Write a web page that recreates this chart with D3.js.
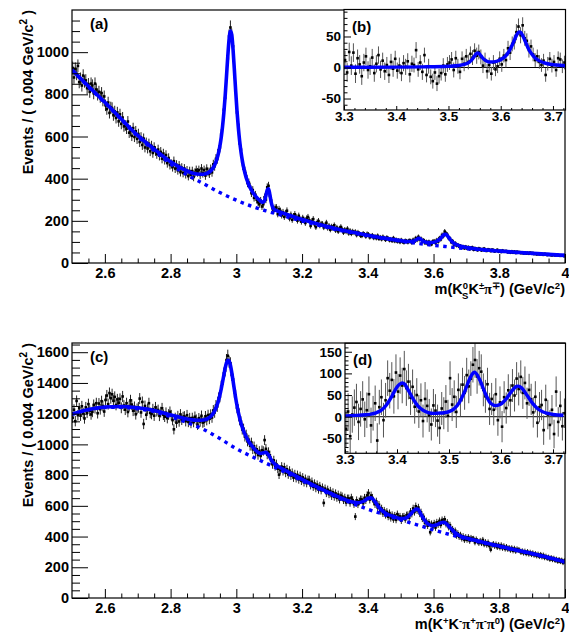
<!DOCTYPE html>
<html><head><meta charset="utf-8">
<script src="https://cdn.jsdelivr.net/npm/d3@7"></script>
<style>
body{margin:0;background:#fff}
svg{display:block}
text{font-family:"Liberation Sans",Arial,Helvetica,sans-serif;font-weight:bold;fill:#000}
</style></head>
<body><svg id="c" width="569" height="636"></svg>
<script>
// ---------- DATA ----------
const binStart = 2.502, binWidth = 0.004;      // main histogram bins
const insetStart = 3.302;                        // inset bins
const xTicksMain = [2.6, 2.8, 3.0, 3.2, 3.4, 3.6, 3.8, 4.0];
const yTicksA = [0, 200, 400, 600, 800, 1000];
const yTicksC = [0, 200, 400, 600, 800, 1000, 1200, 1400, 1600];
const xTicksInset = [3.3, 3.4, 3.5, 3.6, 3.7];
const yTicksB = [-50, 0, 50];
const yTicksD = [-50, 0, 50, 100, 150];

// (a) m(KsKpi) events per 4 MeV
const dataA = [
925,880,921,897,935, 858,874,842,889,861, 866,829,848,812,851, 842,805,851,823,799, 812,788,806,771,790,
748,730,761,712,738, 735,701,719,688,714, 672,705,660,690,648, 652,637,671,618,628, 603,640,598,625,589,
612,574,596,560,590, 548,571,543,566,530, 556,522,549,531,517, 538,509,527,495,519, 489,512,474,498,465,
470,455,483,448,466, 440,462,431,452,427, 448,421,439,412,436, 419,436,408,428,441, 430,441,418,448,426,
441,415,447,432,424, 446,430,468,459,494, 493,535,548,610,641, 727,783,897,969,1075, 1117,1079,1028,905,828,
714,655,567,538,480, 447,436,412,379,381, 362,331,346,309,324, 300,288,279,296,268, 279,312,301,359,366,
318,296,259,249,262, 263,232,255,247,226, 241,219,236,248,222, 212,229,205,222,231, 218,201,224,207,196,
214,205,190,211,218, 203,176,199,208,184, 170,193,199,178,186, 185,169,180,191,166, 176,158,173,166,179,
155,168,150,163,171, 160,145,158,149,162, 141,153,139,150,144, 148,133,145,139,130, 129,140,135,126,138,
135,122,128,131,119, 126,118,129,115,122, 113,124,117,110,121, 116,108,113,105,118, 104,111,102,108,99,
109,101,97,106,104, 98,107,105,96,110, 101,118,109,124,112, 115,102,108,95,101, 91,101,94,89,103,
104,95,109,101,118, 112,133,128,149,140, 134,118,116,99,104, 88,94,83,86,78, 81,73,78,70,77,
69,75,66,72,74, 63,70,67,61,69, 66,60,65,68,59, 58,64,62,57,63, 61,55,59,62,54,
57,53,59,54,56, 56,51,54,49,55, 49,54,48,53,51, 51,47,50,45,49, 45,48,44,49,46,
47,43,45,41,44, 41,44,42,39,43, 42,38,41,40,37, 37,40,36,39,38, 36,34,37,35,33
];
const fitA = [[2.50,916],[2.55,838],[2.60,762],[2.65,683],[2.70,605],[2.75,540],[2.80,480],[2.84,444],[2.88,422],[2.90,421],[2.92,434],[2.93,453],[2.938,480],[2.942,499],[2.946,524],[2.950,555],[2.954,595],[2.958,647],[2.962,712],[2.966,791],[2.970,884],[2.974,980],[2.978,1061],[2.982,1100],[2.986,1083],[2.990,1013],[2.994,917],[2.998,816],[3.002,722],[3.006,644],[3.010,580],[3.014,529],[3.018,488],[3.022,455],[3.026,428],[3.030,405],[3.034,387],[3.038,370],[3.046,346],[3.054,326],[3.062,311],[3.070,299],[3.078,289],[3.082,288],[3.086,296],[3.090,319],[3.094,347],[3.098,352],[3.102,325],[3.106,289],[3.110,266],[3.114,257],[3.120,250],[3.14,238],[3.16,227],[3.20,206],[3.25,184],[3.30,164],[3.35,147],[3.40,132],[3.45,118],[3.50,106],[3.52,102],[3.53,102],[3.54,104],[3.546,109],[3.550,113],[3.554,117],[3.558,116],[3.562,111],[3.566,106],[3.570,103],[3.578,98],[3.59,97],[3.60,98],[3.61,103],[3.618,112],[3.622,117],[3.626,125],[3.630,132],[3.634,136],[3.638,136],[3.642,129],[3.646,122],[3.650,113],[3.654,105],[3.658,99],[3.666,90],[3.674,85],[3.69,77],[3.72,69],[3.76,62],[3.80,57],[3.85,51],[3.90,46],[3.95,41],[4.00,36]];
const bkgA = [[2.50,915],[2.55,835],[2.60,760],[2.65,680],[2.70,601],[2.75,533],[2.80,470],[2.85,418],[2.90,376],[2.95,334],[3.00,298],[3.05,267],[3.10,243],[3.15,221],[3.20,199],[3.25,179],[3.30,160],[3.35,144],[3.40,129],[3.45,116],[3.50,104],[3.55,93],[3.60,84],[3.65,76],[3.70,68],[3.75,62],[3.80,56],[3.85,50],[3.90,45],[3.95,40],[4.00,35]];

// (b) background-subtracted, 3.3-3.72
const dataB = [
12,-8,25,3,24, -10,15,5,-14,8, 18,-4,2,16,-9, 6,20,-3,11,-6, 4,-12,9,-2,14,
-5,3,-9,7,1, 10,-11,6,4,28, -3,8,-7,20,-12, 2,-15,-22,-8,-26, -14,-9,3,-11,5,
8,13,-4,15,2, -7,14,6,18,9, 22,16,27,19,25, 17,3,12,-6,4, -10,8,-3,2,14,
5,19,12,31,24, 38,41,57,66,52, 68,47,43,28,34, 21,12,18,9,4, 11,-12,6,14,3,
9,-4,15,13,2, 8
];
const errB = [
15,15,15,15,15, 15,14,15,14,14, 14,14,14,14,14, 14,14,14,13,14, 13,13,13,13,13,
13,13,13,13,13, 13,13,13,12,13, 12,12,13,12,12, 12,12,12,12,12, 12,12,12,12,12,
12,12,12,12,12, 12,12,12,12,12, 12,12,12,13,12, 12,12,12,12,12, 11,12,11,11,12,
12,11,12,12,12, 12,12,13,13,13, 13,12,12,12,11, 11,11,11,11,11, 11,11,11,11,11,
11,11,11,11,11, 11
];
const fitB = [[3.30,0.3],[3.40,0.6],[3.45,1.0],[3.50,2.0],[3.52,3.2],[3.53,4.9],[3.54,8.6],[3.546,13.7],[3.550,18.6],[3.554,22.8],[3.556,23.6],[3.558,23.0],[3.562,19.1],[3.566,14.6],[3.570,12.0],[3.578,8.8],[3.586,9.0],[3.594,10.5],[3.602,13.7],[3.610,19.3],[3.618,29.3],[3.622,36.2],[3.626,44.1],[3.630,51.8],[3.634,56.8],[3.636,57.4],[3.638,56.7],[3.642,51.7],[3.646,43.9],[3.650,35.9],[3.654,28.9],[3.658,23.3],[3.666,15.4],[3.674,10.7],[3.682,7.9],[3.694,5.3],[3.706,4.0],[3.724,2.8]];

// (c) m(KKpipipi0) events per 4 MeV
const dataC = [
1174,1226,1151,1283,1190, 1235,1187,1248,1203,1169, 1241,1206,1262,1219,1195, 1212,1257,1236,1268,1203, 1266,1229,1281,1250,1214,
1289,1318,1262,1334,1301, 1326,1284,1309,1257,1293, 1271,1296,1238,1312,1253, 1226,1268,1211,1249,1287, 1259,1219,1244,1196,1231,
1241,1298,1208,1276,1133, 1250,1193,1231,1268,1205, 1198,1229,1187,1241,1216, 1224,1186,1210,1235,1193, 1180,1206,1171,1195,1212,
1190,1158,1098,1172,1141, 1184,1149,1195,1160,1178, 1182,1151,1190,1146,1171, 1139,1172,1145,1180,1161, 1128,1170,1149,1186,1142,
1147,1183,1158,1191,1166, 1194,1175,1221,1208,1253, 1247,1302,1310,1378,1396, 1462,1481,1549,1577,1538, 1528,1452,1423,1340,1318,
1238,1226,1158,1149,1097, 1102,1051,1063,1019,1030, 991,1012,968,987,949, 968,931,957,925,962, 957,1028,971,934,950,
929,894,871,896,858, 871,842,803,833,855, 826,851,815,838,804, 829,797,815,784,806, 780,801,772,794,763,
785,753,776,748,769, 768,734,757,724,745, 715,738,706,729,701, 719,619,712,683,705, 676,697,664,688,659,
681,652,673,641,667, 661,637,653,622,648, 648,619,653,637,611, 530,636,610,629,642, 641,618,652,637,668,
683,641,667,652,628, 611,628,589,607,566, 583,551,569,540,561, 529,553,520,541,512, 537,509,546,527,531,
504,529,531,512,539, 541,523,562,548,583, 560,597,571,589,550, 558,517,528,489,501, 471,492,428,483,466,
487,459,493,478,502, 476,508,497,512,481, 491,461,474,437,448, 419,438,406,421,398, 411,387,402,378,396,
379,396,372,391,384, 385,362,381,369,358, 372,357,378,349,364, 346,362,339,315,344, 352,338,349,331,345,
328,344,325,338,320, 333,318,327,312,325, 308,322,305,318,312, 311,297,306,293,304, 289,301,286,297,283,
293,279,288,274,285, 270,283,267,279,262, 272,258,266,251,263, 249,259,244,253,238, 251,236,247,229,243
];
const fitC = [[2.50,1197],[2.55,1227],[2.60,1243],[2.65,1247],[2.70,1238],[2.75,1221],[2.80,1192],[2.84,1170],[2.86,1161],[2.88,1157],[2.90,1159],[2.922,1182],[2.930,1203],[2.938,1237],[2.942,1260],[2.946,1288],[2.950,1321],[2.954,1361],[2.958,1405],[2.962,1451],[2.966,1496],[2.970,1531],[2.974,1548],[2.978,1543],[2.982,1515],[2.986,1469],[2.990,1414],[2.994,1357],[2.998,1302],[3.002,1253],[3.006,1210],[3.010,1173],[3.014,1140],[3.018,1112],[3.026,1067],[3.034,1033],[3.042,1005],[3.050,983],[3.058,963],[3.066,948],[3.074,941],[3.082,945],[3.090,948],[3.098,931],[3.106,900],[3.114,878],[3.122,864],[3.14,841],[3.16,818],[3.20,772],[3.25,718],[3.30,668],[3.33,641],[3.35,627],[3.37,620],[3.38,624],[3.39,633],[3.40,648],[3.41,652],[3.42,632],[3.43,602],[3.44,576],[3.45,558],[3.46,545],[3.48,529],[3.50,517],[3.518,523],[3.522,529],[3.530,545],[3.538,565],[3.542,572],[3.546,578],[3.550,579],[3.554,574],[3.558,561],[3.562,544],[3.566,529],[3.570,515],[3.574,503],[3.578,492],[3.582,484],[3.590,474],[3.598,470],[3.606,474],[3.614,481],[3.622,489],[3.630,493],[3.638,486],[3.646,468],[3.654,450],[3.662,432],[3.670,418],[3.678,407],[3.69,396],[3.70,391],[3.72,379],[3.76,358],[3.80,338],[3.85,313],[3.90,289],[3.95,263],[4.00,236]];
const bkgC = [[2.50,1195],[2.55,1225],[2.60,1240],[2.65,1242],[2.70,1232],[2.75,1213],[2.80,1180],[2.85,1142],[2.90,1098],[2.95,1038],[3.00,972],[3.05,918],[3.10,868],[3.15,817],[3.20,764],[3.25,712],[3.30,662],[3.35,618],[3.40,578],[3.45,543],[3.50,509],[3.55,476],[3.60,444],[3.65,413],[3.70,385],[3.75,360],[3.80,335],[3.85,311],[3.90,287],[3.95,261],[4.00,234]];

// (d) background-subtracted, 3.3-3.72
const dataD = [
-28,12,-45,5,21, 34,-12,18,40,-6, 15,52,-20,8,31, -55,22,45,-8,38, 89,60,85,47,102,
58,95,72,110,66, 81,44,69,23,50, 12,38,-10,41,25, 3,-18,26,14,-9, -26,19,8,35,2,
89,28,46,11,62, 39,74,55,96,70, 88,120,131,93,112, 104,62,47,75,18, 41,16,52,-8,33,
-23,45,20,61,38, 72,49,88,64,92, 55,78,31,62,40, 10,46,-14,22,27, -31,39,5,-19,16,
-40,58,-12,25,-22, 8
];
const errD = [
43,42,43,42,42, 42,42,41,42,41, 41,41,41,40,41, 40,40,41,40,40, 41,41,41,40,42,
41,42,41,42,41, 41,40,40,39,39, 38,39,38,39,38, 38,37,38,38,37, 37,38,37,38,37,
39,38,38,37,38, 38,39,39,40,39, 40,41,41,40,40, 40,38,38,38,37, 37,36,37,36,37,
36,37,36,37,37, 38,37,38,38,38, 37,38,36,37,36, 35,36,34,35,35, 34,35,34,34,34,
33,35,34,34,33, 34
];
const fitD = [[3.30,2],[3.32,3],[3.34,4.6],[3.35,6],[3.36,9],[3.37,15],[3.38,27.5],[3.39,47],[3.40,68.5],[3.405,75],[3.41,78],[3.415,75],[3.42,65],[3.43,43],[3.44,25],[3.45,15],[3.46,9.7],[3.47,7.6],[3.48,8.3],[3.49,9.2],[3.50,11.8],[3.51,18.4],[3.52,33],[3.53,58],[3.54,88],[3.545,99],[3.549,103],[3.555,95],[3.56,83],[3.57,53],[3.58,31],[3.59,25.7],[3.60,29.3],[3.61,41.3],[3.62,58],[3.63,70],[3.633,70.7],[3.64,66],[3.65,49.4],[3.66,32],[3.67,19],[3.68,11.4],[3.69,7.5],[3.70,5.2],[3.72,3.4]];

// ---------- DRAWING ----------
const svg = d3.select("#c");
const BLUE = "#0000ff";
const fmt = d => String(+(+d).toFixed(2));
let clipN = 0;
function clip(x0, y0, x1, y1) {
  const id = "clip" + (clipN++);
  svg.append("clipPath").attr("id", id).append("rect")
    .attr("x", x0).attr("y", y0).attr("width", x1 - x0).attr("height", y1 - y0);
  return `url(#${id})`;
}
function axes(g, x, y, o) {
  const yl = x.range()[0], xb = y.range()[0];
  g.append("g").attr("transform", `translate(${yl},0)`)
    .call(d3.axisLeft(y).tickValues(o.yMinor).tickSize(-o.yMinLen).tickFormat(""))
    .call(a => a.select(".domain").remove());
  g.append("g").attr("transform", `translate(${yl},0)`)
    .call(d3.axisLeft(y).tickValues(o.yMajor).tickSize(-o.yMajLen).tickPadding(3).tickFormat(fmt))
    .call(a => a.select(".domain").remove())
    .attr("font-size", o.fs).attr("font-family", null);
  g.append("g").attr("transform", `translate(0,${xb})`)
    .call(d3.axisBottom(x).tickValues(o.xMinor).tickSize(-o.xMinLen).tickFormat(""))
    .call(a => a.select(".domain").remove());
  g.append("g").attr("transform", `translate(0,${xb})`)
    .call(d3.axisBottom(x).tickValues(o.xMajor).tickSize(-o.xMajLen).tickPadding(o.xPad).tickFormat(fmt))
    .call(a => a.select(".domain").remove())
    .attr("font-size", o.fs).attr("font-family", null);
  g.selectAll(".tick line").attr("stroke", "#000").attr("stroke-width", 1);
  g.selectAll(".tick text").attr("fill", "#000");
}
function drawPoints(g, x, y, pts, col) {
  g.append("g").selectAll("line").data(pts).join("line")
    .attr("x1", d => x(d.x)).attr("x2", d => x(d.x))
    .attr("y1", d => y(d.v - d.e)).attr("y2", d => y(d.v + d.e))
    .attr("stroke", col).attr("stroke-width", 1);
  g.append("g").selectAll("rect").data(pts).join("rect")
    .attr("x", d => x(d.x) - 1.3).attr("y", d => y(d.v) - 1.3)
    .attr("width", 2.6).attr("height", 2.6).attr("fill", "#000");
}

function mainPanel(o) {
  const x = d3.scaleLinear().domain([2.5, 4]).range([72, 565]);
  const y = d3.scaleLinear().domain([0, o.ymax]).range([o.bottom, o.top]);
  const g = svg.append("g");
  const pg = g.append("g").attr("clip-path", clip(72, o.top, 565, o.bottom));
  const pts = o.data.map((v, i) => ({ x: binStart + binWidth * i, v, e: Math.sqrt(v) }));
  drawPoints(pg, x, y, pts, "#222");
  const line = d3.line().x(d => x(d[0])).y(d => y(d[1])).curve(d3.curveMonotoneX);
  pg.append("path").attr("d", line(o.bkg)).attr("fill", "none").attr("stroke", BLUE)
    .attr("stroke-width", 3.4).attr("stroke-dasharray", "3.5,4.5");
  pg.append("path").attr("d", line(o.fit)).attr("fill", "none").attr("stroke", BLUE)
    .attr("stroke-width", 3.6).attr("stroke-linejoin", "round");
  const yMinor = d3.range(1, Math.floor(o.ymax / 50) + 1).filter(i => i % 4 !== 0).map(i => i * 50).filter(v => v < o.ymax);
  const xMinor = d3.range(1, 30).filter(i => i % 4 !== 2).map(i => 2.5 + 0.05 * i);
  axes(g, x, y, { yMajor: o.yTicks, yMinor, xMajor: xTicksMain, xMinor, fs: 14.5,
    yMajLen: 16, yMinLen: 8, xMajLen: 9, xMinLen: 4.5, xPad: 5 });
  g.append("rect").attr("x", 72).attr("y", o.top).attr("width", 493).attr("height", o.bottom - o.top)
    .attr("fill", "none").attr("stroke", "#000").attr("stroke-width", 1.2);
  g.append("text").attr("x", 90).attr("y", o.top + 19).attr("font-size", 15).text(o.label);
  // y title
  const yt = g.append("text").attr("transform", `translate(33,${o.top}) rotate(-90)`)
    .attr("text-anchor", "end").attr("font-size", 14.5);
  yt.append("tspan").text("Events / ( 0.004 GeV/c");
  yt.append("tspan").attr("font-size", 10).attr("dy", -6).text("2");
  yt.append("tspan").attr("dy", 6).text(" )");
  return g;
}

function inset(o) {
  const x = d3.scaleLinear().domain([3.3, 3.724]).range([o.left, 565.5]);
  const y = d3.scaleLinear().domain(o.ydom).range([o.bottom, o.top]);
  const g = svg.append("g");
  g.append("rect").attr("x", o.left).attr("y", o.top).attr("width", 565.5 - o.left)
    .attr("height", o.bottom - o.top).attr("fill", "#fff");
  const pg = g.append("g").attr("clip-path", clip(o.left, o.top, 565.5, o.bottom));
  pg.append("line").attr("x1", o.left).attr("x2", 565.5).attr("y1", y(0)).attr("y2", y(0))
    .attr("stroke", "#000").attr("stroke-width", 1);
  const pts = o.data.map((v, i) => ({ x: insetStart + binWidth * i, v, e: o.err[i] }));
  drawPoints(pg, x, y, pts, "#555");
  const line = d3.line().x(d => x(d[0])).y(d => y(d[1])).curve(d3.curveMonotoneX);
  pg.append("path").attr("d", line(o.fit)).attr("fill", "none").attr("stroke", BLUE)
    .attr("stroke-width", 3.4).attr("stroke-linejoin", "round");
  const yMinor = d3.range(Math.ceil(o.ydom[0] / 10), Math.floor(o.ydom[1] / 10) + 1)
    .filter(i => i % 5 !== 0).map(i => i * 10);
  const xMinor = d3.range(0, 22).filter(i => i % 5 !== 0).map(i => 3.3 + 0.02 * i);
  axes(g, x, y, { yMajor: o.yTicks, yMinor, xMajor: xTicksInset, xMinor, fs: 13.5,
    yMajLen: 7, yMinLen: 3.5, xMajLen: 4, xMinLen: 2, xPad: 1 });
  g.append("rect").attr("x", o.left).attr("y", o.top).attr("width", 565.5 - o.left)
    .attr("height", o.bottom - o.top).attr("fill", "none").attr("stroke", "#000").attr("stroke-width", 1.2);
  g.append("text").attr("x", o.left + 8).attr("y", o.top + 22).attr("font-size", 15).text(o.label);
}

// Panel (a)
mainPanel({ data: dataA, fit: fitA, bkg: bkgA, ymax: 1200, top: 10, bottom: 263, yTicks: yTicksA, label: "(a)" });
inset({ data: dataB, err: errB, fit: fitB, left: 344, top: 9.5, bottom: 110, ydom: [-68.5, 93.5], yTicks: yTicksB, label: "(b)" });
// Panel (c)
mainPanel({ data: dataC, fit: fitC, bkg: bkgC, ymax: 1660, top: 343, bottom: 598, yTicks: yTicksC, label: "(c)" });
inset({ data: dataD, err: errD, fit: fitD, left: 345, top: 343.3, bottom: 453.3, ydom: [-84.5, 169.5], yTicks: yTicksD, label: "(d)" });

// x titles
function sup(t, s, size) { t.append("tspan").attr("font-size", size || 9.5).attr("dy", -5).text(s); }
function down(t, s, serif) {
  const ts = t.append("tspan").attr("dy", 5).text(s);
  if (serif) ts.style("font-family", "'Liberation Serif',serif");
}
const tA = svg.append("text").attr("x", 565).attr("y", 294).attr("text-anchor", "end").attr("font-size", 14.5);
tA.append("tspan").text("m(K");
tA.append("tspan").attr("font-size", 9.5).attr("dy", -5).text("0");
tA.append("tspan").attr("font-size", 9.5).attr("dx", -6).attr("dy", 10).text("S");
tA.append("tspan").attr("dy", -5).text("K");
sup(tA, "±");
down(tA, "π", true);
sup(tA, "∓");
down(tA, ") (GeV/c");
sup(tA, "2");
down(tA, ")");

const tC = svg.append("text").attr("x", 565).attr("y", 629).attr("text-anchor", "end").attr("font-size", 14.5);
tC.append("tspan").text("m(K");
sup(tC, "+");
down(tC, "K");
sup(tC, "-");
down(tC, "π", true);
sup(tC, "+");
down(tC, "π", true);
sup(tC, "-");
down(tC, "π", true);
sup(tC, "0");
down(tC, ") (GeV/c");
sup(tC, "2");
down(tC, ")");
</script>
</body></html>
